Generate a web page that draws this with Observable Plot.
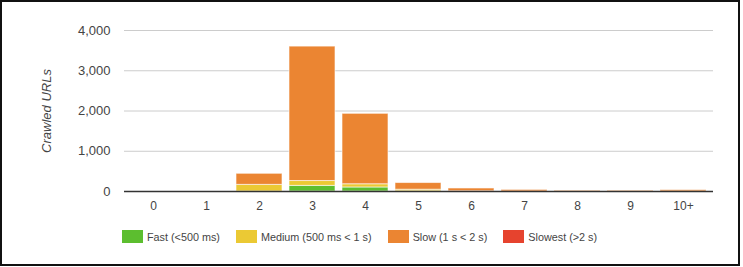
<!DOCTYPE html>
<html><head><meta charset="utf-8">
<script src="https://cdn.jsdelivr.net/npm/d3@7"></script>
<script src="https://cdn.jsdelivr.net/npm/@observablehq/plot@0.6"></script>
<style>
html,body{margin:0;padding:0;background:#fff;}
#wrap{position:relative;width:743px;height:267px;overflow:hidden;font-family:Arial,"Liberation Sans",sans-serif;}
#frame{position:absolute;left:0;top:0;width:736px;height:262px;border:2px solid #111;}
#chart{position:absolute;left:0;top:0;}
#legend{position:absolute;left:122px;top:230px;display:flex;align-items:center;font-size:10.8px;color:#444;white-space:nowrap;}
.item{display:flex;align-items:center;margin-right:16px;}
.sw{width:21px;height:13px;margin-right:4px;}
g[aria-label^="x-axis"] text{font-size:12px;}
</style>
</head><body>
<div id="wrap"><div id="frame"></div><div id="chart"></div><div id="legend"></div></div>
<script>
const categories = ["0","1","2","3","4","5","6","7","8","9","10+"];
const series = ["Fast (<500 ms)","Medium (500 ms < 1 s)","Slow (1 s < 2 s)","Slowest (>2 s)"];
const colors = ["#5cbe2f","#ebc934","#eb8532","#e6432e"];
const fast    = [0,0,0,140,100,5,0,0,0,0,0];
const medium  = [0,0,165,120,80,40,5,0,0,0,0];
const slow    = [0,0,275,3340,1750,165,70,40,20,20,35];
const slowest = [0,0,0,0,0,0,0,0,0,0,0];
const yTicks = [0,1000,2000,3000,4000];
const yLabel = "Crawled URLs";

const values = [fast, medium, slow, slowest];
const rows = [];
categories.forEach((c,i)=>series.forEach((s,j)=>{const v=values[j][i]; if(v>0) rows.push({category:c, series:s, value:v});}));

const chart = Plot.plot({
  width:743, height:220,
  marginLeft:124, marginRight:30, marginTop:30, marginBottom:29,
  style:{fontFamily:"Arial, 'Liberation Sans', sans-serif", fontSize:"13px", color:"#444", background:"transparent"},
  x:{domain:categories, paddingInner:0.13, paddingOuter:0.065, label:null, tickSize:0, tickPadding:10},
  y:{domain:[0,4000], ticks:yTicks, tickFormat:d3.format(","), label:null, tickSize:0, tickPadding:14},
  color:{domain:series, range:colors},
  marks:[
    Plot.ruleY(yTicks, {stroke:"#cccccc"}),
    Plot.barY(rows, {x:"category", y:"value", fill:"series", stroke:"#fff", strokeOpacity:0.6, strokeWidth:1}),
    Plot.ruleY([0], {stroke:"#333", strokeWidth:1.5}),
    Plot.text([yLabel], {text:d=>d, frameAnchor:"left", textAnchor:"middle", lineAnchor:"middle", dx:-78, rotate:-90, fontStyle:"italic", fontSize:13, fill:"#444"})
  ]
});
document.getElementById("chart").appendChild(chart);

const legend = document.getElementById("legend");
series.forEach((s,i)=>{
  const it=document.createElement("div"); it.className="item";
  const sw=document.createElement("div"); sw.className="sw"; sw.style.background=colors[i];
  const t=document.createElement("span"); t.textContent=s;
  it.appendChild(sw); it.appendChild(t); legend.appendChild(it);
});
</script>
</body></html>
